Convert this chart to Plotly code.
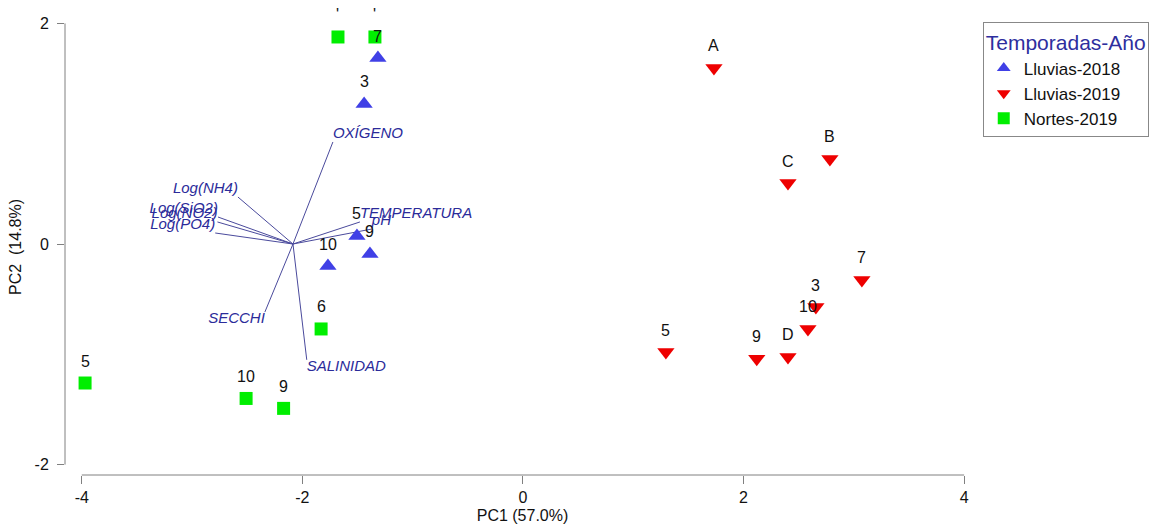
import plotly.graph_objects as go

# Sample scores on the first two principal components
ll18_lab = ["7", "3", "5", "9", "10"]
ll18_pc1 = [-1.315, -1.44, -1.505, -1.387, -1.768]
ll18_pc2 = [1.686, 1.27, 0.073, -0.09, -0.2]

ll19_lab = ["A", "B", "C", "7", "3", "10", "D", "9", "5"]
ll19_pc1 = [1.732, 2.783, 2.403, 3.073, 2.656, 2.584, 2.403, 2.12, 1.296]
ll19_pc2 = [1.596, 0.771, 0.553, -0.326, -0.571, -0.77, -1.024, -1.04, -0.979]

no19_lab = ["'", "'", "6", "5", "10", "9"]
no19_pc1 = [-1.677, -1.342, -1.83, -3.97, -2.51, -2.17]
no19_pc2 = [1.877, 1.877, -0.77, -1.26, -1.4, -1.49]

# Variable vectors (origin and end points)
vec_origin = (-2.085, 0.0)
vec_names = ["OXÍGENO", "Log(NH4)", "Log(SiO2)", "Log(NO2)", "Log(PO4)",
             "TEMPERATURA", "pH", "SECCHI", "SALINIDAD"]
vec_pc1 = [-1.723, -2.584, -2.765, -2.77, -2.79, -1.478, -1.37, -2.34, -1.96]
vec_pc2 = [0.925, 0.426, 0.245, 0.2, 0.1, 0.2, 0.136, -0.617, -1.05]
vec_textpos = ["top right", "top left", "top left", "top left", "top left",
               "top right", "top right", "bottom left", "bottom right"]

x_ticks = [-4, -2, 0, 2, 4]
x_ticklabels = ["-4", "-2", "0", "2", "4"]
y_ticks = [-2, 0, 2]
y_ticklabels = ["-2", "0", "2"]

VEC_COLOR = "#2b2b9a"
AXIS_COLOR = "#808080"
FONT = "Arial, Liberation Sans"

fig = go.Figure()

# vector lines
lx, ly = [], []
for ex, ey in zip(vec_pc1, vec_pc2):
    lx += [vec_origin[0], ex, None]
    ly += [vec_origin[1], ey, None]
fig.add_trace(go.Scatter(x=lx, y=ly, mode="lines", showlegend=False,
                         line=dict(color="#4a4a9c", width=1), hoverinfo="skip"))
fig.add_trace(go.Scatter(x=vec_pc1, y=vec_pc2, mode="text", text=vec_names,
                         textposition=vec_textpos, showlegend=False,
                         textfont=dict(family=FONT, size=15,
                                       color=VEC_COLOR, style="italic")))

groups = [
    ("Lluvias-2018", ll18_pc1, ll18_pc2, ll18_lab, "triangle-up", "#4040e6", 15),
    ("Lluvias-2019", ll19_pc1, ll19_pc2, ll19_lab, "triangle-down", "#ee0000", 15),
    ("Nortes-2019", no19_pc1, no19_pc2, no19_lab, "square", "#00ee00", 13),
]
for name, xs, ys, labs, sym, col, sz in groups:
    fig.add_trace(go.Scatter(x=xs, y=ys, mode="markers", name=name,
                             marker=dict(symbol=sym, color=col, size=sz,
                                         line=dict(width=0))))
    for x, y, t in zip(xs, ys, labs):
        fig.add_annotation(x=x, y=y, text=t, showarrow=False, yshift=22,
                           font=dict(family=FONT, size=16, color="#111111"))

# detached axis lines spanning the tick range only
fig.add_shape(type="line", xref="x", yref="paper", x0=x_ticks[0], x1=x_ticks[-1],
              y0=0, y1=0, line=dict(color=AXIS_COLOR, width=1))
fig.add_shape(type="line", xref="paper", yref="y", x0=0, x1=0,
              y0=y_ticks[0], y1=y_ticks[-1], line=dict(color=AXIS_COLOR, width=1))

fig.update_layout(
    width=1175, height=527,
    margin=dict(l=65, r=195, t=19, b=52, autoexpand=False),
    paper_bgcolor="white", plot_bgcolor="white",
    font=dict(family=FONT, size=16, color="#111111"),
    xaxis=dict(range=[-4.152, 4.144], tickvals=x_ticks, ticktext=x_ticklabels,
               ticks="outside", ticklen=8, tickcolor=AXIS_COLOR, showgrid=False,
               zeroline=False, showline=False,
               title=dict(text="PC1 (57.0%)", standoff=4, font=dict(size=16))),
    yaxis=dict(range=[-2.094, 2.04], tickvals=y_ticks, ticktext=y_ticklabels,
               ticks="outside", ticklen=7, tickcolor=AXIS_COLOR, showgrid=False,
               zeroline=False, showline=False, ticklabelstandoff=5,
               title=dict(text="PC2  (14.8%)", standoff=8, font=dict(size=16))),
    legend=dict(x=1.003, y=0.993, xanchor="left", yanchor="top",
                bordercolor="#888888", borderwidth=1, bgcolor="white",
                title=dict(text="Temporadas-Año",
                           font=dict(size=21, color="#2e2e9e")),
                font=dict(size=17, color="#111111"),
                itemsizing="constant", tracegroupgap=0),
)

fig.write_html("out.html")
